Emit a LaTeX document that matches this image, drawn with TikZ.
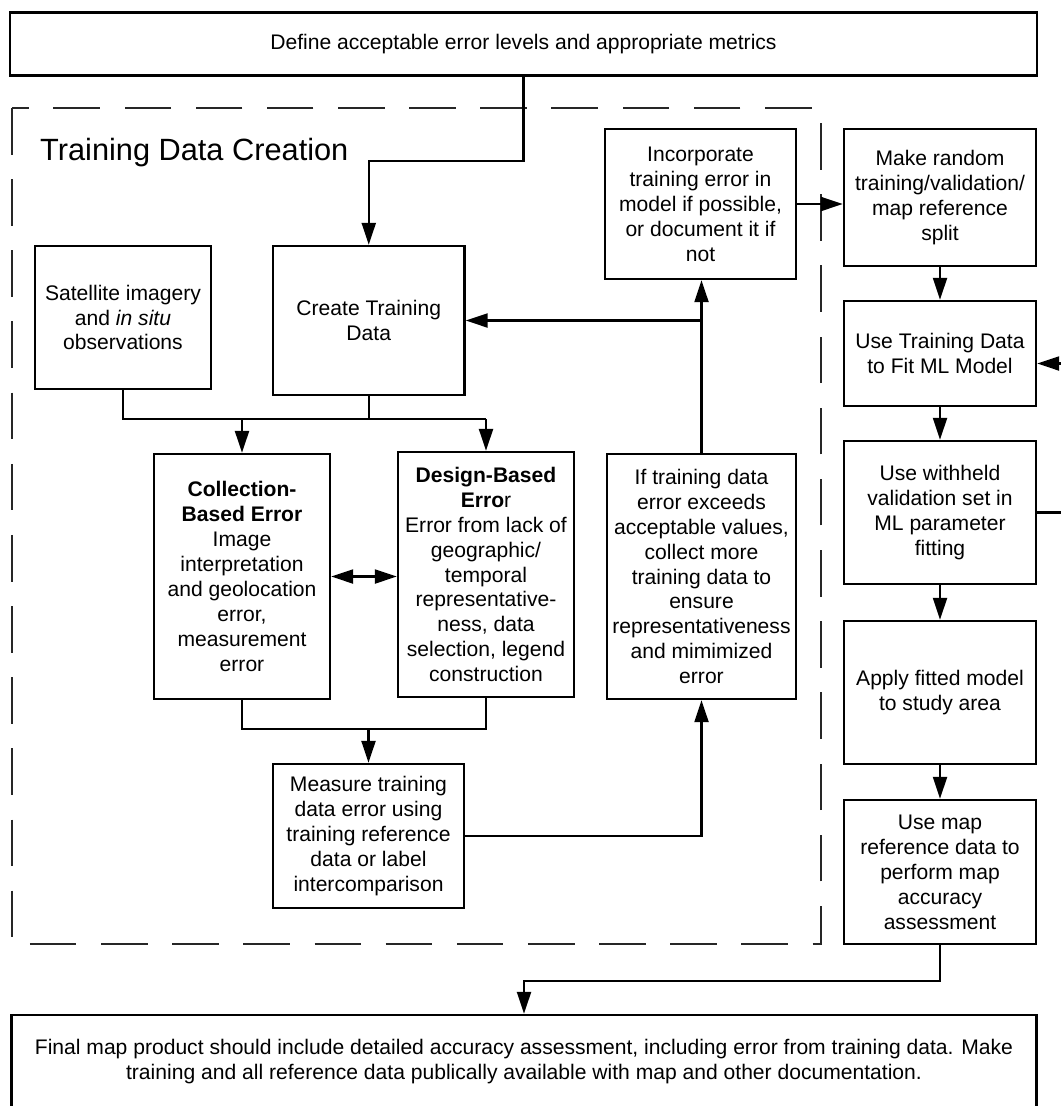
\documentclass[tikz,border=0pt]{standalone}
\usepackage{fontspec}
\setmainfont{Liberation Sans}
\usepackage{tikz}
\usetikzlibrary{arrows.meta,positioning,calc}
\definecolor{fdash}{HTML}{262626}

\begin{document}
\begin{tikzpicture}[x=0.02cm, y=-0.02cm, font=\fontsize{12}{14.2}\selectfont,
  box/.style={draw, line width=1.4pt, align=center, inner sep=2pt},
  arr/.style={line width=1.15pt, -{Triangle[length=12.5pt,width=8pt]}},
  dbl/.style={line width=1.15pt, {Triangle[length=12.5pt,width=8pt]}-{Triangle[length=12.5pt,width=8pt]}},
  link/.style={line width=1.15pt},
  group/.style={fdash, line width=1.4pt, dash pattern=on 26.5pt off 14pt}]
\useasboundingbox (0,0) rectangle (1061,1106);
% ---------- top and bottom ----------
\node[box, minimum width=20.54cm, minimum height=1.26cm] (top) at (523.5,44)
   {Define acceptable error levels and appropriate metrics};
\node[box, minimum width=20.5cm, minimum height=1.88cm] (final) at (524,1062)
   {Final map product should include detailed accuracy assessment, including error from training data. Make\\
    training and all reference data publically available with map and other documentation.};
% ---------- training data creation ----------
\draw[group] (12,108) rectangle (821,944);
\node[anchor=base west, font=\fontsize{17.5}{20}\selectfont] (title) at (34,160) {Training Data Creation};
\node[box, minimum width=3.52cm, minimum height=2.86cm] (sat) at (123,317.5)
   {Satellite imagery\\and \textit{in situ}\\observations};
\node[box, minimum width=3.83cm, minimum height=2.98cm] (create) at (368.75,320.5)
   {Create Training\\Data};
\node[box, minimum width=3.52cm, minimum height=4.9cm] (coll) at (242,576.5)
   {\textbf{Collection-}\\\textbf{Based Error}\\Image\\interpretation\\and geolocation\\error,\\measurement\\error};
\node[box, minimum width=3.52cm, minimum height=4.9cm] (design) at (486,574.5)
   {\textbf{Design-Based}\\\textbf{Erro}r\\Error from lack of\\geographic/\\temporal\\representative-\\ness, data\\selection, legend\\construction};
\node[box, minimum width=3.82cm, minimum height=2.88cm] (measure) at (368.5,836)
   {Measure training\\data error using\\training reference\\data or label\\intercomparison};
\node[box, minimum width=3.78cm, minimum height=4.9cm] (iftrain) at (701.5,576.5)
   {If training data\\error exceeds\\acceptable values,\\collect more\\training data to\\ensure\\representativeness\\and mimimized\\error};
\node[box, minimum width=3.82cm, minimum height=3.0cm] (incorp) at (700.5,204)
   {Incorporate\\training error in\\model if possible,\\or document it if\\not};
% ---------- model chain ----------
\node[box, minimum width=3.84cm, minimum height=2.74cm] (split) at (940,197.5)
   {Make random\\training/validation/\\map reference\\split};
\node[box, minimum width=3.84cm, minimum height=2.1cm] (fit) at (940,353.5)
   {Use Training Data\\to Fit ML Model};
\node[box, minimum width=3.84cm, minimum height=2.86cm] (valid) at (940,512.5)
   {Use withheld\\validation set in\\ML parameter\\fitting};
\node[box, minimum width=3.84cm, minimum height=2.86cm] (apply) at (940,692.5)
   {Apply fitted model\\to study area};
\node[box, minimum width=3.84cm, minimum height=2.88cm] (assess) at (940,872)
   {Use map\\reference data to\\perform map\\accuracy\\assessment};
% ---------- connectors ----------
\coordinate (bus1) at (0,161);
\coordinate (bus2) at (0,419);
\coordinate (bus3) at (0,729);
\draw[arr] (top.south) |- (bus1 -| create.north) -- (create.north);
\draw[link] (sat.south) |- (bus2 -| design.north);
\draw[link] (create.south) -- (create.south |- bus2);
\draw[arr] (bus2 -| coll.north) -- (coll.north);
\draw[arr] (bus2 -| design.north) -- (design.north);
\draw[dbl] (coll.east) -- (coll.east -| design.west);
\draw[link] (coll.south) |- (bus3 -| design.south) -- (design.south);
\draw[arr] (bus3 -| measure.north) -- (measure.north);
\draw[arr] (measure.east) -| (iftrain.south);
\draw[arr] (iftrain.north) -- (iftrain.north |- incorp.south);
\draw[arr] (iftrain.north |- create.east) -- (create.east);
\draw[arr] (incorp.east) -- (incorp.east -| split.west);
\draw[arr] (split) -- (fit);
\draw[arr] (fit) -- (valid);
\draw[arr] (valid) -- (apply);
\draw[arr] (apply) -- (assess);
\draw[arr] (valid.east) -- ++(40,0) |- ([yshift=-0.2cm]fit.east);
\draw[arr] (assess.south) -- ++(0,36) -| (final.north);
\end{tikzpicture}
\end{document}
